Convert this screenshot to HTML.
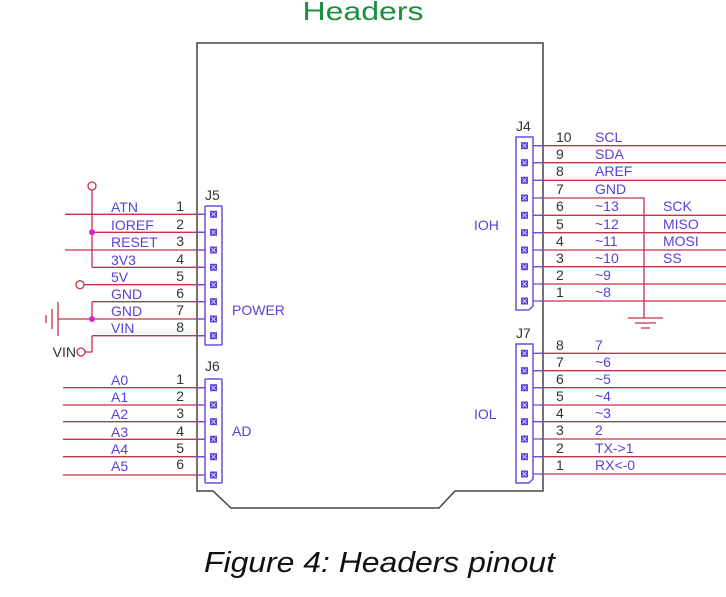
<!DOCTYPE html>
<html><head><meta charset="utf-8"><style>
html,body{margin:0;padding:0;background:#fff;}
svg{display:block;font-family:"Liberation Sans",Arial,sans-serif;}
.w{stroke:#c8304a;stroke-width:1.3;fill:none}
.s{stroke:#6a4fe0;stroke-width:1.3;fill:none}
.b{stroke:#6a4fe0;stroke-width:1.5;fill:#fff}
.t{fill:#5a40d8;font-size:14px}
.n{fill:#333;font-size:14px}
.k{stroke:#444;stroke-width:1.5;fill:none}
</style></head><body>
<svg width="726" height="597" viewBox="0 0 726 597" xmlns="http://www.w3.org/2000/svg">
<defs>
<g id="p"><rect x="-3.5" y="-3.5" width="7" height="7" fill="#5a40d8"/><path d="M-2,-2L2,2M2,-2L-2,2" stroke="#dcd6ff" stroke-width="0.9"/></g>
</defs>
<text x="363" y="20" text-anchor="middle" font-size="26" fill="#1a9040" textLength="121" lengthAdjust="spacingAndGlyphs">Headers</text>
<path class="k" d="M197,43 L543,43 L543,491 L455,491 L439,508 L231,508 L213,491 L197,491 Z"/>

<g>
<path class="w" d="M65,214.3H205 M92,232.3H205 M65,250H205 M92,267.3H205 M84,284.7H205 M92,301.7H205 M58,319H205 M92,335.7H205"/>
<path class="w" d="M92,190V267.3 M92,301.7V319 M92,335.7V352H85"/>
<circle cx="92" cy="186" r="4" class="w"/>
<circle cx="80" cy="284.7" r="4" class="w"/>
<circle cx="81" cy="352" r="4" class="w"/>
<circle cx="92" cy="232.3" r="3" fill="#e020e0"/>
<circle cx="92" cy="319" r="3" fill="#e020e0"/>
<path class="w" d="M58,302V336 M52,309V329 M46,315V323"/>
<text x="76" y="357" text-anchor="end" fill="#333" font-size="14">VIN</text>
<path class="s" d="M196,214.3H207 M196,232.3H207 M196,250H207 M196,267.3H207 M196,284.7H207 M196,301.7H207 M196,319H207 M196,335.7H207"/>
<rect class="b" x="205" y="206" width="17" height="139" rx="1"/>
<use href="#p" x="213.5" y="214.3"/><use href="#p" x="213.5" y="232.3"/><use href="#p" x="213.5" y="250"/><use href="#p" x="213.5" y="267.3"/><use href="#p" x="213.5" y="284.7"/><use href="#p" x="213.5" y="301.7"/><use href="#p" x="213.5" y="319"/><use href="#p" x="213.5" y="335.7"/>
<text class="n" x="205" y="200">J5</text>
<text class="t" x="232" y="315">POWER</text>
<g class="t"><text x="111" y="212">ATN</text><text x="111" y="230">IOREF</text><text x="111" y="247">RESET</text><text x="111" y="265">3V3</text><text x="111" y="282">5V</text><text x="111" y="299">GND</text><text x="111" y="316">GND</text><text x="111" y="333">VIN</text></g>
<g class="n" text-anchor="end"><text x="184" y="211">1</text><text x="184" y="229">2</text><text x="184" y="246">3</text><text x="184" y="264">4</text><text x="184" y="281">5</text><text x="184" y="298">6</text><text x="184" y="315">7</text><text x="184" y="332">8</text></g>
</g>

<g>
<path class="w" d="M63,387.7H205 M63,405H205 M63,421.7H205 M63,439.3H205 M63,456.7H205 M63,475H205"/>
<path class="s" d="M196,387.7H207 M196,405H207 M196,421.7H207 M196,439.3H207 M196,456.7H207 M196,475H207"/>
<rect class="b" x="205" y="379" width="17" height="104" rx="1"/>
<use href="#p" x="213.5" y="387.7"/><use href="#p" x="213.5" y="405"/><use href="#p" x="213.5" y="421.7"/><use href="#p" x="213.5" y="439.3"/><use href="#p" x="213.5" y="456.7"/><use href="#p" x="213.5" y="475"/>
<text class="n" x="205" y="371">J6</text>
<text class="t" x="232" y="436">AD</text>
<g class="t"><text x="111" y="385">A0</text><text x="111" y="402">A1</text><text x="111" y="419">A2</text><text x="111" y="437">A3</text><text x="111" y="454">A4</text><text x="111" y="471">A5</text></g>
<g class="n" text-anchor="end"><text x="184" y="384">1</text><text x="184" y="401">2</text><text x="184" y="418">3</text><text x="184" y="436">4</text><text x="184" y="453">5</text><text x="184" y="469">6</text></g>
</g>

<g>
<path class="w" d="M540,145.7H726 M540,162.7H726 M540,180.3H726 M540,198H644V318 M540,215.3H726 M540,232.7H726 M540,250H726 M540,266.7H726 M540,284H726 M540,301H726"/>
<path class="w" d="M628,318H663 M635,323H656 M641,328H650"/>
<path class="s" d="M531,145.7H543 M531,162.7H543 M531,180.3H543 M531,198H543 M531,215.3H543 M531,232.7H543 M531,250H543 M531,266.7H543 M531,284H543 M531,301H543"/>
<path class="b" d="M516,137H533V306L529,310H516Z"/>
<use href="#p" x="524.5" y="145.7"/><use href="#p" x="524.5" y="162.7"/><use href="#p" x="524.5" y="180.3"/><use href="#p" x="524.5" y="198"/><use href="#p" x="524.5" y="215.3"/><use href="#p" x="524.5" y="232.7"/><use href="#p" x="524.5" y="250"/><use href="#p" x="524.5" y="266.7"/><use href="#p" x="524.5" y="284"/><use href="#p" x="524.5" y="301"/>
<text class="n" x="516" y="131">J4</text>
<text class="t" x="474" y="230">IOH</text>
<g class="n"><text x="556" y="142">10</text><text x="556" y="159">9</text><text x="556" y="176">8</text><text x="556" y="194">7</text><text x="556" y="211">6</text><text x="556" y="229">5</text><text x="556" y="246">4</text><text x="556" y="263">3</text><text x="556" y="280">2</text><text x="556" y="297">1</text></g>
<g class="t"><text x="595" y="142">SCL</text><text x="595" y="159">SDA</text><text x="595" y="176">AREF</text><text x="595" y="194">GND</text><text x="595" y="211">~13</text><text x="595" y="229">~12</text><text x="595" y="246">~11</text><text x="595" y="263">~10</text><text x="595" y="280">~9</text><text x="595" y="297">~8</text>
<text x="663" y="211">SCK</text><text x="663" y="229">MISO</text><text x="663" y="246">MOSI</text><text x="663" y="263">SS</text></g>
</g>

<g>
<path class="w" d="M540,353.3H726 M540,370.7H726 M540,387.7H726 M540,405H726 M540,421.7H726 M540,439H726 M540,456.7H726 M540,474H726"/>
<path class="s" d="M531,353.3H543 M531,370.7H543 M531,387.7H543 M531,405H543 M531,421.7H543 M531,439H543 M531,456.7H543 M531,474H543"/>
<path class="b" d="M516,344H533V479L529,483H516Z"/>
<use href="#p" x="524.5" y="353.3"/><use href="#p" x="524.5" y="370.7"/><use href="#p" x="524.5" y="387.7"/><use href="#p" x="524.5" y="405"/><use href="#p" x="524.5" y="421.7"/><use href="#p" x="524.5" y="439"/><use href="#p" x="524.5" y="456.7"/><use href="#p" x="524.5" y="474"/>
<text class="n" x="516" y="338">J7</text>
<text class="t" x="474" y="419">IOL</text>
<g class="n"><text x="556" y="350">8</text><text x="556" y="367">7</text><text x="556" y="384">6</text><text x="556" y="401">5</text><text x="556" y="418">4</text><text x="556" y="435">3</text><text x="556" y="453">2</text><text x="556" y="470">1</text></g>
<g class="t"><text x="595" y="350">7</text><text x="595" y="367">~6</text><text x="595" y="384">~5</text><text x="595" y="401">~4</text><text x="595" y="418">~3</text><text x="595" y="435">2</text><text x="595" y="453">TX-&gt;1</text><text x="595" y="470">RX&lt;-0</text></g>
</g>

<text x="204" y="572" font-size="29" font-style="italic" fill="#111" textLength="351" lengthAdjust="spacingAndGlyphs">Figure 4: Headers pinout</text>
</svg>
</body></html>
